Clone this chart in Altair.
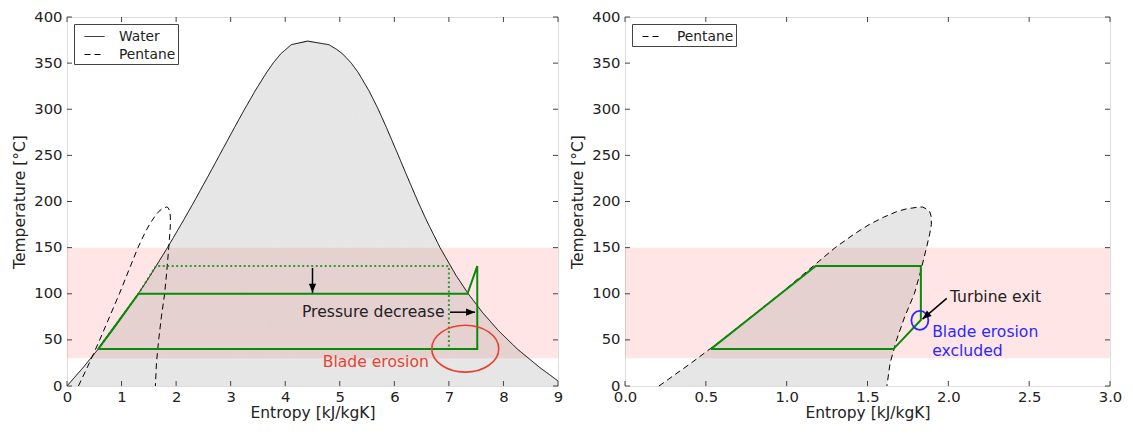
import altair as alt
import pandas as pd

FONT = "DejaVu Sans"

# ---------------- data ----------------
# Water saturation dome (T in degC, s in kJ/kgK)
water_T_liq = [0.01, 20, 40, 60, 80, 100, 120, 150, 180, 200, 230, 250, 280, 300, 320, 340, 350, 360, 370, 373.9]
water_s_liq = [0.0, 0.296, 0.572, 0.831, 1.075, 1.307, 1.528, 1.842, 2.139, 2.331, 2.610, 2.793, 3.068, 3.255,
               3.449, 3.660, 3.778, 3.916, 4.111, 4.41]
water_T_vap = [373.9, 370, 365, 360, 350, 340, 320, 300, 280, 250, 230, 200, 180, 150, 120, 100, 80, 60, 40, 20, 5.5]
water_s_vap = [4.41, 4.80, 4.94, 5.053, 5.211, 5.336, 5.536, 5.705, 5.857, 6.073, 6.215, 6.432, 6.586, 6.838,
               7.130, 7.355, 7.612, 7.909, 8.256, 8.667, 9.0]

# Pentane saturation dome
pent_T = [0, 25, 50, 75, 100, 125, 150, 165, 175, 183, 189, 192, 194]
pent_s_liq = [0.21, 0.41, 0.60, 0.78, 0.96, 1.13, 1.30, 1.42, 1.51, 1.60, 1.68, 1.74, 1.82]
pent_s_vap = [1.62, 1.64, 1.68, 1.73, 1.79, 1.83, 1.865, 1.885, 1.895, 1.895, 1.885, 1.865, 1.84]

# Heat-source temperature band
band_T = [30, 150]

# Water cycle (left)
water_cycle_s = [0.57, 1.31, 7.34, 7.52, 7.52, 0.57]
water_cycle_T = [40, 100, 100, 130, 40, 40]
water_dotted_s = [0.57, 1.31, 1.63, 7.0, 7.0]
water_dotted_T = [40, 100, 130, 130, 40]

# Pentane cycle (right)
pent_cycle_s = [0.53, 1.18, 1.83, 1.83, 1.66, 0.53]
pent_cycle_T = [40, 130, 130, 71.5, 40, 40]

# Annotations
left_arrows = {"s": [4.5, 7.02], "T": [128, 80], "s2": [4.5, 7.48], "T2": [101, 80], "angle": [180, 90]}
right_arrows = {"s": [1.99], "T": [95], "s2": [1.84], "T2": [72.5], "angle": [229]}
left_texts = {"s": [6.92, 5.66], "T": [80, 26.5], "label": ["Pressure decrease", "Blade erosion"],
              "color": ["#222222", "#e8412f"]}
right_texts = {"s": [2.01, 1.90, 1.90], "T": [96, 58, 37.5],
               "label": ["Turbine exit", "Blade erosion", "excluded"],
               "color": ["#222222", "#2a2aff", "#2a2aff"]}
red_ellipse = {"s": [7.30], "T": [40.5]}
blue_ellipse = {"s": [1.824], "T": [71.2]}

left_xticks = [0, 1, 2, 3, 4, 5, 6, 7, 8, 9]
right_xticks = [0.0, 0.5, 1.0, 1.5, 2.0, 2.5, 3.0]
yticks = [0, 50, 100, 150, 200, 250, 300, 350, 400]

# ---------------- helpers ----------------
W1, W2, H = 491, 485, 369
GREEN = "#0a8a0a"
LBL, TTL, ANN = 14.8, 15.5, 15.6

water_df = pd.DataFrame({
    "s": water_s_liq + water_s_vap[1:],
    "T": water_T_liq + water_T_vap[1:],
})
water_df["i"] = range(len(water_df))
water_df["fluid"] = "Water"

pent_df = pd.DataFrame({
    "s": pent_s_liq + list(reversed(pent_s_vap)),
    "T": pent_T + list(reversed(pent_T)),
})
pent_df["i"] = range(len(pent_df))
pent_df["fluid"] = "Pentane"
pent_area_df = pd.DataFrame({"T": pent_T, "sl": pent_s_liq, "sv": pent_s_vap})

def path_df(s, T):
    return pd.DataFrame({"s": s, "T": T, "i": range(len(s))})

def axes(xdom, xticks, xfmt):
    xs = alt.Scale(domain=xdom, nice=False, zero=False)
    ys = alt.Scale(domain=[0, 400], nice=False)
    xa = alt.Axis(values=xticks, format=xfmt, ticks=False, domain=False, grid=False,
                  labelFont=FONT, labelFontSize=LBL, labelColor="#222", labelPadding=3,
                  labelFlush=False, labelOverlap=False,
                  title="Entropy [kJ/kgK]", titleFont=FONT, titleFontSize=TTL,
                  titleFontWeight="normal", titleColor="#222", titlePadding=2)
    ya = alt.Axis(values=yticks, ticks=False, domain=False, grid=False,
                  labelFont=FONT, labelFontSize=LBL, labelColor="#222", labelPadding=5,
                  labelFlush=False, labelOverlap=False,
                  title="Temperature [°C]", titleFont=FONT, titleFontSize=TTL,
                  titleFontWeight="normal", titleColor="#222", titlePadding=6)
    return xs, ys, xa, ya

def tick_layers(xticks, xs, ys, width):
    tx = pd.DataFrame({"v": xticks})
    ty = pd.DataFrame({"v": yticks})
    L = 5
    c = "#444"
    b = alt.Chart(tx).mark_rule(color=c, strokeWidth=1).encode(
        x=alt.X("v:Q", scale=xs), y=alt.value(H), y2=alt.value(H - L))
    t = alt.Chart(tx).mark_rule(color=c, strokeWidth=1).encode(
        x=alt.X("v:Q", scale=xs), y=alt.value(0), y2=alt.value(L))
    l = alt.Chart(ty).mark_rule(color=c, strokeWidth=1).encode(
        y=alt.Y("v:Q", scale=ys), x=alt.value(0), x2=alt.value(L))
    r = alt.Chart(ty).mark_rule(color=c, strokeWidth=1).encode(
        y=alt.Y("v:Q", scale=ys), x=alt.value(width), x2=alt.value(width - L))
    return [b, t, l, r]

HEAD = "M 0 0 L 0.4 1 L -0.4 1 Z"
ELL_RED = "M -1 0 A 1 0.7 0 1 0 1 0 A 1 0.7 0 1 0 -1 0"
ELL_BLUE = "M -1 0 A 1 1.12 0 1 0 1 0 A 1 1.12 0 1 0 -1 0"

legend_kw = dict(title=None, orient="top-left", offset=7, strokeColor="#444", fillColor="white",
                 padding=2, labelFont=FONT, labelFontSize=13.8, labelColor="#222",
                 symbolType="stroke", symbolStrokeColor="black", symbolStrokeWidth=1,
                 symbolSize=400, symbolOffset=8, labelOffset=14, rowPadding=0, cornerRadius=0)

def band_layer(ys, width):
    bd = pd.DataFrame({"lo": [band_T[0]], "hi": [band_T[1]]})
    return alt.Chart(bd).mark_rect(color="red", opacity=0.1).encode(
        x=alt.value(0), x2=alt.value(width),
        y=alt.Y("lo:Q", scale=ys), y2="hi:Q")

def arrow_layers(ad, xs, ys):
    df = pd.DataFrame(ad)
    shaft = alt.Chart(df).mark_rule(color="black", strokeWidth=1.5).encode(
        x=alt.X("s:Q", scale=xs), y=alt.Y("T:Q", scale=ys), x2="s2:Q", y2="T2:Q")
    head = alt.Chart(df).mark_point(shape=HEAD, filled=True, color="black", opacity=1,
                                    size=324, strokeWidth=0).encode(
        x=alt.X("s2:Q", scale=xs), y=alt.Y("T2:Q", scale=ys), angle=alt.Angle("angle:Q", scale=None))
    return [shaft, head]

# ---------------- left chart ----------------
xs, ys, xa, ya = axes([0, 9], left_xticks, "d")

l_band = band_layer(ys, W1)
l_area = alt.Chart(water_df).mark_area(color="gray", opacity=0.2).encode(
    x=alt.X("s:Q", scale=xs, axis=xa), y=alt.Y("T:Q", scale=ys, axis=ya), order="i:Q")
l_water = alt.Chart(water_df).mark_line(color="black", strokeWidth=1).encode(
    x=alt.X("s:Q", scale=xs), y=alt.Y("T:Q", scale=ys), order="i:Q",
    strokeDash=alt.StrokeDash("fluid:N",
                              scale=alt.Scale(domain=["Water", "Pentane"], range=[[1, 0], [6, 4]]),
                              legend=alt.Legend(**legend_kw)))
l_pent = alt.Chart(pent_df).mark_line(color="black", strokeWidth=1).encode(
    x=alt.X("s:Q", scale=xs), y=alt.Y("T:Q", scale=ys), order="i:Q",
    strokeDash=alt.StrokeDash("fluid:N"))
l_dotted = alt.Chart(path_df(water_dotted_s, water_dotted_T)).mark_line(
    color=GREEN, strokeWidth=2, strokeDash=[2, 2.5], opacity=0.8).encode(
    x=alt.X("s:Q", scale=xs), y=alt.Y("T:Q", scale=ys), order="i:Q")
l_cycle = alt.Chart(path_df(water_cycle_s, water_cycle_T)).mark_line(
    color=GREEN, strokeWidth=2).encode(
    x=alt.X("s:Q", scale=xs), y=alt.Y("T:Q", scale=ys), order="i:Q")
ltd = pd.DataFrame(left_texts)
l_text1 = alt.Chart(ltd.iloc[[0]]).mark_text(font=FONT, fontSize=ANN, align="right",
                                             baseline="middle").encode(
    x=alt.X("s:Q", scale=xs), y=alt.Y("T:Q", scale=ys), text="label:N",
    color=alt.Color("color:N", scale=None))
l_text2 = alt.Chart(ltd.iloc[[1]]).mark_text(font=FONT, fontSize=ANN, align="center",
                                             baseline="middle").encode(
    x=alt.X("s:Q", scale=xs), y=alt.Y("T:Q", scale=ys), text="label:N",
    color=alt.Color("color:N", scale=None))
l_ell = alt.Chart(pd.DataFrame(red_ellipse)).mark_point(
    shape=ELL_RED, size=67 * 67, filled=False, color="#e8412f", strokeWidth=1.6, opacity=1).encode(
    x=alt.X("s:Q", scale=xs), y=alt.Y("T:Q", scale=ys))

left = alt.layer(
    l_band, l_area, l_water, l_pent, l_dotted, l_cycle,
    *arrow_layers(left_arrows, xs, ys), l_text1, l_text2, l_ell,
    *tick_layers(left_xticks, xs, ys, W1)
).properties(width=W1, height=H)

# ---------------- right chart ----------------
xs2, ys2, xa2, ya2 = axes([0, 3], right_xticks, ".1f")

r_band = band_layer(ys2, W2)
r_area = alt.Chart(pent_area_df).mark_area(color="gray", opacity=0.2, orient="horizontal").encode(
    y=alt.Y("T:Q", scale=ys2, axis=ya2), x=alt.X("sl:Q", scale=xs2, axis=xa2), x2="sv:Q")
r_lines = alt.Chart(pent_df).mark_line(color="black", strokeWidth=1).encode(
    x=alt.X("s:Q", scale=xs2), y=alt.Y("T:Q", scale=ys2), order="i:Q",
    strokeDash=alt.StrokeDash("fluid:N",
                              scale=alt.Scale(domain=["Pentane"], range=[[6, 4]]),
                              legend=alt.Legend(**legend_kw)))
r_cycle = alt.Chart(path_df(pent_cycle_s, pent_cycle_T)).mark_line(
    color=GREEN, strokeWidth=2).encode(
    x=alt.X("s:Q", scale=xs2), y=alt.Y("T:Q", scale=ys2), order="i:Q")
r_text = alt.Chart(pd.DataFrame(right_texts)).mark_text(
    font=FONT, fontSize=ANN, align="left", baseline="middle").encode(
    x=alt.X("s:Q", scale=xs2), y=alt.Y("T:Q", scale=ys2), text="label:N",
    color=alt.Color("color:N", scale=None))
r_ell = alt.Chart(pd.DataFrame(blue_ellipse)).mark_point(
    shape=ELL_BLUE, size=17 * 17, filled=False, color="#2a2aff", strokeWidth=1.8, opacity=1).encode(
    x=alt.X("s:Q", scale=xs2), y=alt.Y("T:Q", scale=ys2))

right = alt.layer(
    r_band, r_area, r_lines, r_cycle, r_ell,
    *arrow_layers(right_arrows, xs2, ys2), r_text,
    *tick_layers(right_xticks, xs2, ys2, W2)
).properties(width=W2, height=H)

chart = alt.hconcat(left, right, spacing=6).resolve_scale(
    strokeDash="independent", x="independent", y="independent"
).resolve_legend(strokeDash="independent").properties(
    padding={"left": 4, "top": 0, "right": 0, "bottom": 0}
).configure_view(stroke="#444", strokeWidth=1).configure(background="white")

chart.save("out.html", embed_options={"renderer": "svg", "actions": False})
